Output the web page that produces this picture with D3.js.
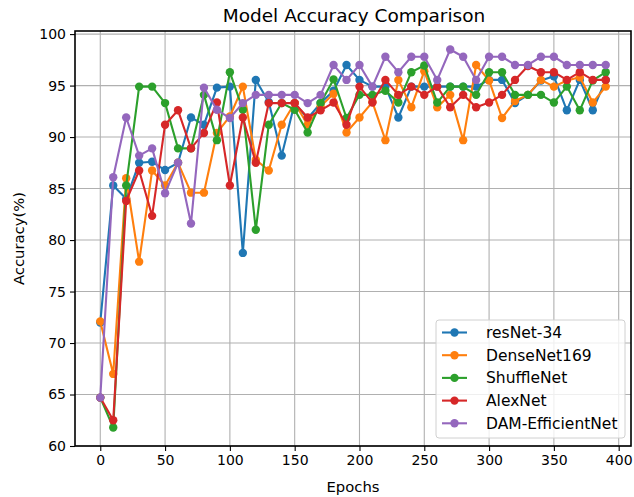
<!DOCTYPE html>
<html>
<head>
<meta charset="utf-8">
<script src="https://cdn.jsdelivr.net/npm/d3@7"></script>
<style>
  body { margin: 0; background: #fff; }
  svg { display: block; font-family: "DejaVu Sans", sans-serif; }
</style>
</head>
<body>
<div id="chart"></div>
<script>
// epochs and accuracy values
const epochs = d3.range(0, 400, 10);

const resNet34 = [72.0, 85.3, 84.0, 87.5, 87.6, 86.8, 87.5, 91.9, 91.2, 94.8,
  94.9, 78.75, 95.55, 93.4, 88.2, 93.3, 91.8, 93.3, 94.5, 97.0,
  95.55, 94.9, 94.9, 91.9, 94.9, 94.9, 94.9, 94.9, 94.9, 94.9,
  95.55, 95.55, 93.3, 94.1, 95.5, 95.9, 92.6, 95.55, 92.6, 95.55];

const denseNet169 = [72.1, 67.0, 86.0, 77.9, 86.75, 85.3, 87.5, 84.6, 84.6, 90.4,
  92.0, 94.9, 87.8, 86.75, 91.2, 93.3, 91.2, 93.0, 94.2, 90.45,
  91.9, 93.4, 89.7, 95.55, 92.9, 96.4, 92.9, 94.1, 89.7, 97.0,
  95.5, 91.85, 93.5, 94.1, 95.55, 94.9, 95.5, 95.8, 93.35, 94.9];

const shuffleNet = [64.7, 61.8, 85.3, 94.9, 94.9, 93.3, 88.9, 88.9, 94.1, 89.7,
  96.3, 92.65, 81.0, 91.2, 93.3, 92.65, 90.45, 93.3, 95.6, 91.85,
  94.1, 94.1, 94.5, 93.35, 96.3, 96.95, 93.35, 94.9, 94.9, 94.1,
  96.3, 96.3, 94.1, 94.1, 94.1, 93.35, 94.9, 92.6, 95.5, 96.3];

const alexNet = [64.7, 62.5, 83.8, 86.75, 82.35, 91.2, 92.6, 88.9, 90.4, 93.35,
  85.3, 91.9, 87.5, 93.3, 93.3, 93.3, 91.9, 92.6, 93.35, 91.2,
  94.9, 93.35, 95.55, 94.1, 94.9, 94.1, 94.9, 92.9, 94.1, 92.9,
  93.35, 94.1, 95.55, 96.9, 96.3, 96.3, 95.55, 96.3, 95.55, 95.55];

const damEfficientNet = [64.7, 86.1, 91.9, 88.2, 88.9, 84.55, 87.5, 81.6, 94.8, 92.65,
  91.85, 93.3, 94.1, 94.1, 94.1, 94.1, 93.3, 94.1, 97.0, 95.55,
  97.0, 94.9, 97.8, 96.3, 97.8, 97.8, 95.55, 98.5, 97.8, 95.55,
  97.8, 97.8, 97.0, 97.0, 97.8, 97.8, 97.0, 97.0, 97.0, 97.0];

const seriesNames = ['resNet-34', 'DenseNet169', 'ShuffleNet', 'AlexNet', 'DAM-EfficientNet'];
const seriesColors = ['#1f77b4', '#ff7f0e', '#2ca02c', '#d62728', '#9467bd'];
const seriesValues = [resNet34, denseNet169, shuffleNet, alexNet, damEfficientNet];

const xTicks = d3.range(0, 401, 50);
const yTicks = d3.range(60, 101, 5);

// set the dimensions and margins of the graph
const W = 634, H = 497;
const margin = { top: 31, right: 3, bottom: 51, left: 75 };
const width = W - margin.left - margin.right;
const height = H - margin.top - margin.bottom;

const svg = d3.select('#chart')
  .append('svg')
  .attr('width', W)
  .attr('height', H)
  .append('g')
  .attr('transform', `translate(${margin.left},${margin.top})`);

const x = d3.scaleLinear().domain([-19.5, 409.5]).range([0, width]);
const y = d3.scaleLinear().domain([60, 100.3]).range([height, 0]);

// grid
svg.append('g')
  .selectAll('line')
  .data(xTicks)
  .join('line')
  .attr('x1', d => x(d)).attr('x2', d => x(d))
  .attr('y1', 0).attr('y2', height)
  .attr('stroke', '#b0b0b0').attr('stroke-width', 1.1);

svg.append('g')
  .selectAll('line')
  .data(yTicks)
  .join('line')
  .attr('x1', 0).attr('x2', width)
  .attr('y1', d => y(d)).attr('y2', d => y(d))
  .attr('stroke', '#b0b0b0').attr('stroke-width', 1.1);

// series
const line = d3.line()
  .x((d, i) => x(epochs[i]))
  .y(d => y(d));

seriesValues.forEach((vals, k) => {
  const g = svg.append('g');
  g.append('path')
    .datum(vals)
    .attr('d', line)
    .attr('fill', 'none')
    .attr('stroke', seriesColors[k])
    .attr('stroke-width', 2.1)
    .attr('stroke-linejoin', 'round');
  g.selectAll('circle')
    .data(vals)
    .join('circle')
    .attr('cx', (d, i) => x(epochs[i]))
    .attr('cy', d => y(d))
    .attr('r', 4.2)
    .attr('fill', seriesColors[k]);
});

// axes
const xAxis = svg.append('g')
  .attr('transform', `translate(0,${height})`)
  .call(d3.axisBottom(x).tickValues(xTicks).tickSize(5).tickPadding(4));
const yAxis = svg.append('g')
  .call(d3.axisLeft(y).tickValues(yTicks).tickSize(5).tickPadding(4));

[xAxis, yAxis].forEach(a => {
  a.select('.domain').remove();
  a.selectAll('.tick line').attr('stroke', '#000').attr('stroke-width', 1.1);
  a.selectAll('.tick text')
    .attr('fill', '#000')
    .style('font-size', '14px')
    .style('font-family', '"DejaVu Sans", sans-serif');
});

// frame
svg.append('rect')
  .attr('x', 0).attr('y', 0)
  .attr('width', width).attr('height', height)
  .attr('fill', 'none')
  .attr('stroke', '#000')
  .attr('stroke-width', 1.6);

// title and labels
svg.append('text')
  .attr('x', width / 2 + 1).attr('y', -9)
  .attr('text-anchor', 'middle')
  .style('font-size', '18.5px')
  .text('Model Accuracy Comparison');

svg.append('text')
  .attr('x', width / 2).attr('y', height + 46)
  .attr('text-anchor', 'middle')
  .style('font-size', '14.8px')
  .text('Epochs');

svg.append('text')
  .attr('transform', `translate(${-51},${height / 2}) rotate(-90)`)
  .attr('text-anchor', 'middle')
  .style('font-size', '14.8px')
  .text('Accuracy(%)');

// legend
const legend = svg.append('g')
  .attr('transform', `translate(${436 - margin.left},${320 - margin.top})`);

legend.append('rect')
  .attr('width', 189).attr('height', 118)
  .attr('rx', 3)
  .attr('fill', 'rgba(255,255,255,0.8)')
  .attr('stroke', '#d0d0d0')
  .attr('stroke-width', 1);

seriesNames.forEach((name, k) => {
  const ly = 12.5 + k * 22.7;
  legend.append('line')
    .attr('x1', 6).attr('x2', 31)
    .attr('y1', ly).attr('y2', ly)
    .attr('stroke', seriesColors[k])
    .attr('stroke-width', 2.1);
  legend.append('circle')
    .attr('cx', 18.5).attr('cy', ly)
    .attr('r', 4.2)
    .attr('fill', seriesColors[k]);
  legend.append('text')
    .attr('x', 50).attr('y', ly)
    .attr('dy', '0.35em')
    .style('font-size', '15.5px')
    .text(name);
});
</script>
</body>
</html>
